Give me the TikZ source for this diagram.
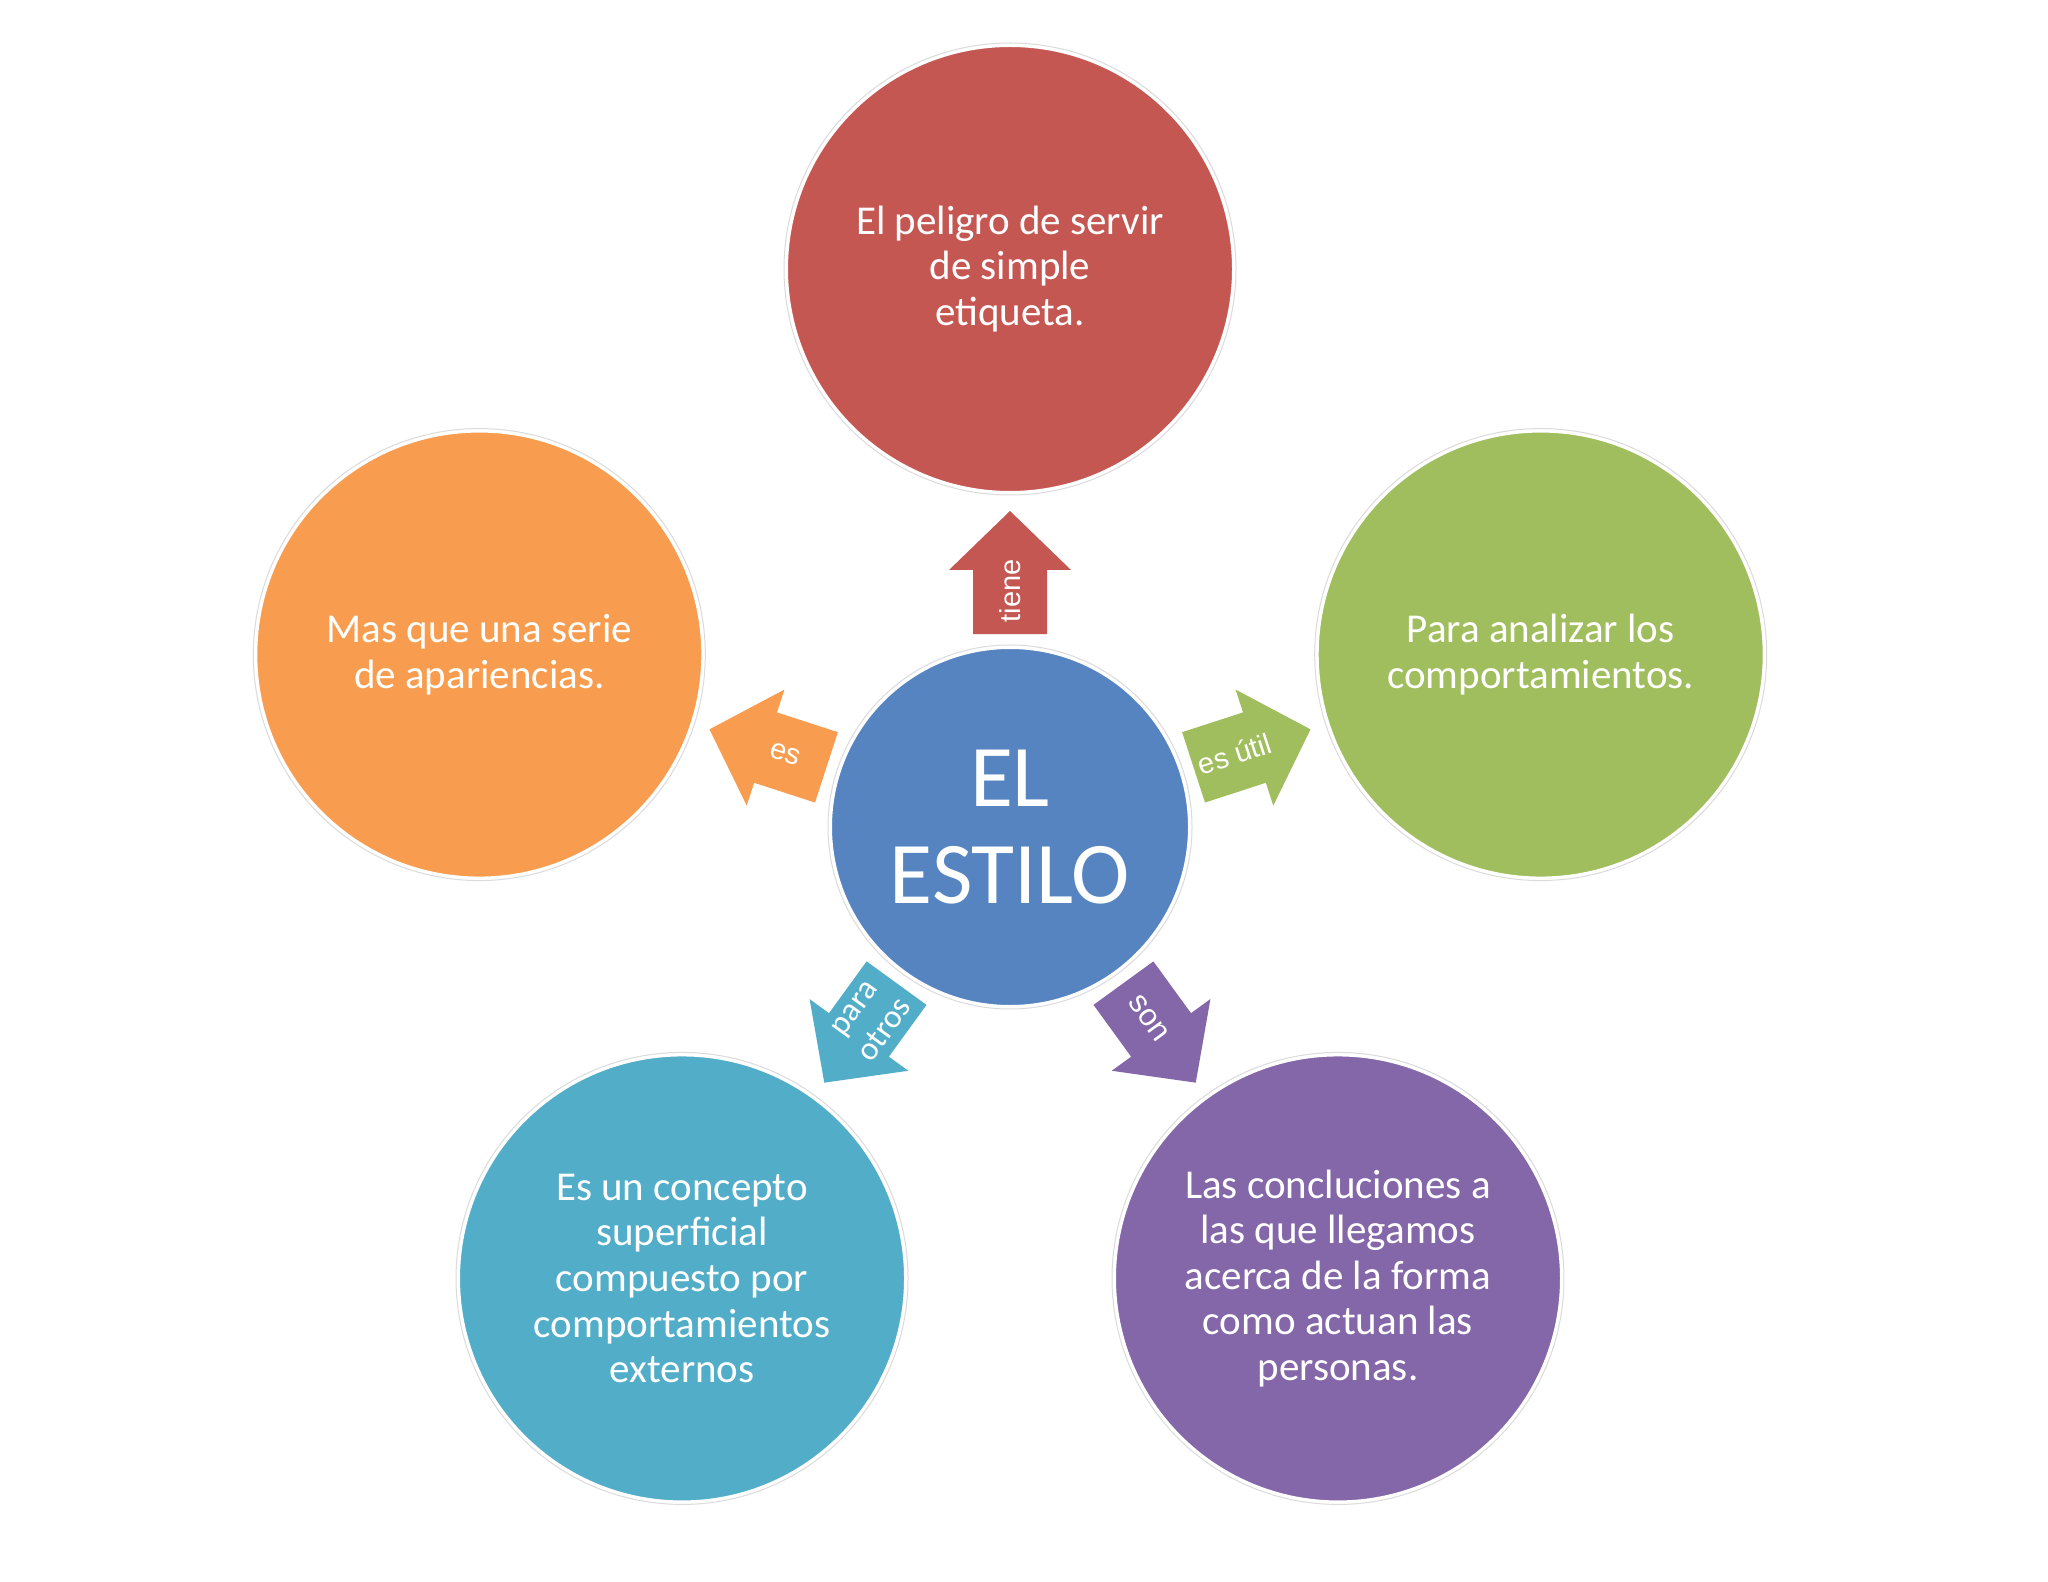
\documentclass[tikz,border=0pt]{standalone}
\usepackage{fontspec}
\setmainfont{Carlito}
\newfontfamily\arialf{Liberation Sans}
\definecolor{cred}{HTML}{C55753}
\definecolor{corange}{HTML}{F89D50}
\definecolor{cgreen}{HTML}{A0BE5E}
\definecolor{ccyan}{HTML}{52AEC8}
\definecolor{cpurple}{HTML}{8467A8}
\definecolor{cblue}{HTML}{5684C1}
\newcommand{\blockarr}[2]{%
  \begin{scope}[shift={(c.center)}, rotate=#1]
    \fill[#2] (193,-37) -- (257,-37) -- (257,-61) -- (316,0) -- (257,61) -- (257,37) -- (193,37) -- cycle;
  \end{scope}}
\begin{document}
\begin{tikzpicture}[x=0.5pt,y=0.5pt,
  bubble/.style={circle, draw=white, line width=2pt, minimum size=224pt, inner sep=0pt,
    text=white, align=center, font=\fontsize{20.5}{22.8}\selectfont},
  ringline/.style={draw=black!14, line width=0.5pt},
  arrlabel/.style={text=white, font=\arialf\fontsize{14.5}{16}\selectfont, inner sep=0pt, align=center}]
\useasboundingbox (0,0) rectangle (2048,-1582);
\fill[white] (0,0) rectangle (2048,-1582);

% centre
\node[bubble, fill=cblue, minimum size=180pt, font=\fontsize{44}{48.5}\selectfont] (c) at (1010,-827) {EL\\ESTILO};
\draw[ringline] (c.center) circle (182);

% outer circles
\path (c.center) ++(90:558) node[bubble, fill=cred] (top) {El peligro de servir\\de simple\\etiqueta.};
\path (c.center) ++(18:558) node[bubble, fill=cgreen] (right) {Para analizar los\\comportamientos.};
\path (c.center) ++(162:558) node[bubble, fill=corange] (left) {Mas que una serie\\de apariencias.};
\path (c.center) ++(234:558) node[bubble, fill=ccyan] (bl) {Es un concepto\\superficial\\compuesto por\\comportamientos\\externos};
\path (c.center) ++(306:558) node[bubble, fill=cpurple] (br) {Las concluciones a\\las que llegamos\\acerca de la forma\\como actuan las\\personas.};
\foreach \n in {top,right,left,bl,br}{\draw[ringline] (\n.center) circle (226);}

% block arrows
\blockarr{90}{cred}
\blockarr{18}{cgreen}
\blockarr{162}{corange}
\blockarr{234}{ccyan}
\blockarr{306}{cpurple}

% arrow labels
\path (c.center) ++(90:236) node[arrlabel, rotate=90] (ltiene) {tiene};
\path (c.center) ++(18:236) node[arrlabel, rotate=18] (lutil) {es útil};
\path (c.center) ++(162:236) node[arrlabel, rotate=-18] (les) {es};
\path (c.center) ++(234:238) node[arrlabel, rotate=54, font=\fontsize{16.5}{19}\selectfont] (lpara) {para\\otros};
\path (c.center) ++(306:236) node[arrlabel, rotate=-54, font=\arialf\fontsize{15.5}{17}\selectfont] (lson) {son};
\end{tikzpicture}
\end{document}
